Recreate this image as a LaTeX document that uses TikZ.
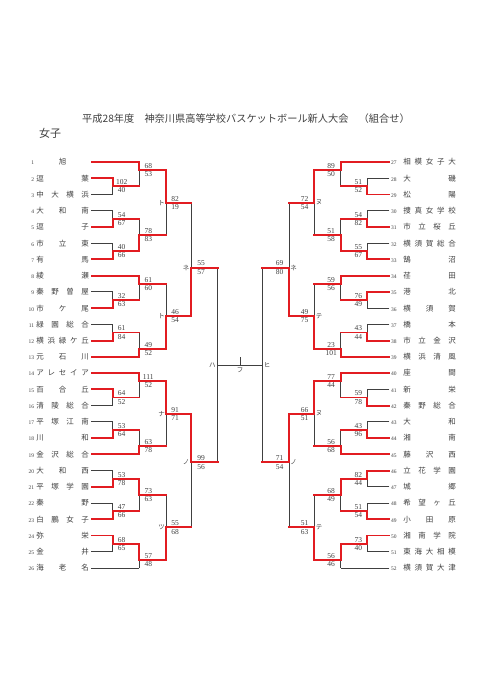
\documentclass[tikz,border=0pt]{standalone}
\usepackage{fontspec}
\setmainfont{Liberation Serif}
\newfontfamily\jp{Noto Sans CJK JP}
\pgfdeclarelayer{bgw}
\pgfdeclarelayer{dk}
\pgfsetlayers{bgw,dk,main}
\definecolor{wr}{RGB}{226,28,33}
\definecolor{dg}{RGB}{64,64,64}
\tikzset{
 rl/.style={draw=wr, line width=1.9pt, line cap=rect},
 dl/.style={draw=dg, line width=0.9pt},
 sc/.style={inner sep=0pt, font=\fontsize{7.5}{7.5}\selectfont, text=dg},
 kl/.style={inner sep=0pt, font=\jp\fontsize{6.5}{6.5}\selectfont, text=dg},
 tm/.style={inner sep=0pt, anchor=west, font=\jp\fontsize{7.5}{7.5}\selectfont, text=dg},
}
\newcommand\numf{\rmfamily\fontsize{5.5}{5.5}\selectfont}
\newcommand\dkl[1]{\begin{pgfonlayer}{dk}#1\end{pgfonlayer}}
% name, x, yA, yB, yO, winner(u/l), upper score, lower score, score dx
\newcommand\mtch[9]{%
  \coordinate (#1a) at (#2,#3);
  \coordinate (#1b) at (#2,#4);
  \coordinate (#1) at (#2,#5);
  \if#6u
    \draw[rl] (#1a) -- (#1);
    \dkl{\draw[dl] (#1) -- (#1b);}
  \else
    \draw[rl] (#1) -- (#1b);
    \dkl{\draw[dl] (#1a) -- (#1);}
  \fi
  \node[sc, anchor=base] (#1u) at (#2+#9, #5-1.6) {#7};
  \node[sc, anchor=base] (#1l) at (#2+#9, #5+6.6) {#8};
}
\newcommand\teamL[4]{\node[tm] (#1) at (26,#2) {\makebox[8pt][r]{\numf #3}\hspace{2.25pt}\hbox to 52.5pt{#4}};}
\newcommand\teamR[4]{\node[tm] (#1) at (391,#2) {\makebox[12.25pt][l]{\numf #3}\hbox to 52.5pt{#4}};}
\begin{document}
\begin{tikzpicture}[x=1pt,y=-1pt]
\begin{pgfonlayer}{bgw}\fill[white] (0,0) rectangle (481,680);\end{pgfonlayer}
\useasboundingbox (0,0) rectangle (481,680);
\node[inner sep=0pt, anchor=west, font=\jp\fontsize{10.2}{10.2}\selectfont, text=dg] (title) at (82,119) {平成28年度　神奈川県高等学校バスケットボール新人大会　（組合せ）};
\node[inner sep=0pt, font=\jp\fontsize{11}{11}\selectfont, text=dg] (sex) at (50,133.5) {女子};
% left teams
\teamL{t1}{162.00}{1}{\hfill 旭\hfill}
\teamL{t2}{178.24}{2}{逗\hfill 葉}
\teamL{t3}{194.48}{3}{中\hfill 大\hfill 横\hfill 浜}
\teamL{t4}{210.72}{4}{大\hfill 和\hfill 南}
\teamL{t5}{226.96}{5}{逗\hfill 子}
\teamL{t6}{243.20}{6}{市\hfill 立\hfill 東}
\teamL{t7}{259.44}{7}{有\hfill 馬}
\teamL{t8}{275.68}{8}{綾\hfill 瀬}
\teamL{t9}{291.92}{9}{秦\hfill 野\hfill 曽\hfill 屋}
\teamL{t10}{308.16}{10}{市\hfill ケ\hfill 尾}
\teamL{t11}{324.40}{11}{緑\hfill 園\hfill 総\hfill 合}
\teamL{t12}{340.64}{12}{横\hfill 浜\hfill 緑\hfill ケ\hfill 丘}
\teamL{t13}{356.88}{13}{元\hfill 石\hfill 川}
\teamL{t14}{373.12}{14}{ア\hfill レ\hfill セ\hfill イ\hfill ア}
\teamL{t15}{389.36}{15}{百\hfill 合\hfill 丘}
\teamL{t16}{405.60}{16}{清\hfill 陵\hfill 総\hfill 合}
\teamL{t17}{421.84}{17}{平\hfill 塚\hfill 江\hfill 南}
\teamL{t18}{438.08}{18}{川\hfill 和}
\teamL{t19}{454.32}{19}{金\hfill 沢\hfill 総\hfill 合}
\teamL{t20}{470.56}{20}{大\hfill 和\hfill 西}
\teamL{t21}{486.80}{21}{平\hfill 塚\hfill 学\hfill 園}
\teamL{t22}{503.04}{22}{秦\hfill 野}
\teamL{t23}{519.28}{23}{白\hfill 鵬\hfill 女\hfill 子}
\teamL{t24}{535.52}{24}{弥\hfill 栄}
\teamL{t25}{551.76}{25}{金\hfill 井}
\teamL{t26}{568.00}{26}{海\hfill 老\hfill 名}
% right teams
\teamR{t27}{162.00}{27}{相\hfill 模\hfill 女\hfill 子\hfill 大}
\teamR{t28}{178.24}{28}{大\hfill 磯}
\teamR{t29}{194.48}{29}{松\hfill 陽}
\teamR{t30}{210.72}{30}{捜\hfill 真\hfill 女\hfill 学\hfill 校}
\teamR{t31}{226.96}{31}{市\hfill 立\hfill 桜\hfill 丘}
\teamR{t32}{243.20}{32}{横\hfill 須\hfill 賀\hfill 総\hfill 合}
\teamR{t33}{259.44}{33}{鵠\hfill 沼}
\teamR{t34}{275.68}{34}{荏\hfill 田}
\teamR{t35}{291.92}{35}{港\hfill 北}
\teamR{t36}{308.16}{36}{横\hfill 須\hfill 賀}
\teamR{t37}{324.40}{37}{橋\hfill 本}
\teamR{t38}{340.64}{38}{市\hfill 立\hfill 金\hfill 沢}
\teamR{t39}{356.88}{39}{横\hfill 浜\hfill 清\hfill 風}
\teamR{t40}{373.12}{40}{座\hfill 間}
\teamR{t41}{389.36}{41}{新\hfill 栄}
\teamR{t42}{405.60}{42}{秦\hfill 野\hfill 総\hfill 合}
\teamR{t43}{421.84}{43}{大\hfill 和}
\teamR{t44}{438.08}{44}{湘\hfill 南}
\teamR{t45}{454.32}{45}{藤\hfill 沢\hfill 西}
\teamR{t46}{470.56}{46}{立\hfill 花\hfill 学\hfill 園}
\teamR{t47}{486.80}{47}{城\hfill 郷}
\teamR{t48}{503.04}{48}{希\hfill 望\hfill ヶ\hfill 丘}
\teamR{t49}{519.28}{49}{小\hfill 田\hfill 原}
\teamR{t50}{535.52}{50}{湘\hfill 南\hfill 学\hfill 院}
\teamR{t51}{551.76}{51}{東\hfill 海\hfill 大\hfill 相\hfill 模}
\teamR{t52}{568.00}{52}{横\hfill 須\hfill 賀\hfill 大\hfill 津}
% left round 1
\mtch{a1}{112.7}{178.24}{194.48}{186.36}{u}{102}{40}{9}
\mtch{a2}{112.7}{210.72}{226.96}{218.84}{l}{54}{67}{9}
\mtch{a3}{112.7}{243.20}{259.44}{251.32}{l}{40}{66}{9}
\mtch{a4}{112.7}{291.92}{308.16}{300.04}{l}{32}{63}{9}
\mtch{a5}{112.7}{324.40}{340.64}{332.52}{l}{61}{84}{9}
\mtch{a6}{112.7}{389.36}{405.60}{397.48}{u}{64}{52}{9}
\mtch{a7}{112.7}{421.84}{438.08}{429.96}{l}{53}{64}{9}
\mtch{a8}{112.7}{470.56}{486.80}{478.68}{l}{53}{78}{9}
\mtch{a9}{112.7}{503.04}{519.28}{511.16}{l}{47}{66}{9}
\mtch{a10}{112.7}{535.52}{551.76}{543.64}{u}{68}{65}{9}
% left round 2
\mtch{b1}{139.3}{162}{186.36}{170.12}{u}{68}{53}{9}
\mtch{b2}{139.3}{218.84}{251.32}{235.08}{l}{78}{83}{9}
\mtch{b3}{139.3}{275.68}{300.04}{283.80}{u}{61}{60}{9}
\mtch{b4}{139.3}{332.52}{356.88}{348.76}{l}{49}{52}{9}
\mtch{b5}{139.3}{373.12}{397.48}{381.24}{u}{111}{52}{9}
\mtch{b6}{139.3}{429.96}{454.32}{446.20}{l}{63}{78}{9}
\mtch{b7}{139.3}{478.68}{511.16}{494.92}{u}{73}{63}{9}
\mtch{b8}{139.3}{543.64}{568.00}{559.88}{u}{57}{48}{9}
% left round 3
\mtch{c1}{166}{170.12}{235.08}{202.60}{u}{82}{19}{9}
\mtch{c2}{166}{283.80}{348.76}{316.28}{l}{46}{54}{9}
\mtch{c3}{166}{381.24}{446.20}{413.72}{u}{91}{71}{9}
\mtch{c4}{166}{494.92}{559.88}{527.40}{l}{55}{68}{9}
% left round 4
\mtch{d1}{191}{202.60}{316.28}{267.56}{l}{55}{57}{10}
\mtch{d2}{191}{413.72}{527.40}{462.44}{u}{99}{56}{10}
% right round 1
\mtch{e1}{367.3}{178.24}{194.48}{186.36}{l}{51}{52}{-9}
\mtch{e2}{367.3}{210.72}{226.96}{218.84}{l}{54}{82}{-9}
\mtch{e3}{367.3}{243.20}{259.44}{251.32}{l}{55}{67}{-9}
\mtch{e4}{367.3}{291.92}{308.16}{300.04}{u}{76}{49}{-9}
\mtch{e5}{367.3}{324.40}{340.64}{332.52}{l}{43}{44}{-9}
\mtch{e6}{367.3}{389.36}{405.60}{397.48}{l}{59}{78}{-9}
\mtch{e7}{367.3}{421.84}{438.08}{429.96}{l}{43}{96}{-9}
\mtch{e8}{367.3}{470.56}{486.80}{478.68}{u}{82}{44}{-9}
\mtch{e9}{367.3}{503.04}{519.28}{511.16}{l}{51}{54}{-9}
\mtch{e10}{367.3}{535.52}{551.76}{543.64}{u}{73}{40}{-9}
% right round 2
\mtch{f1}{340.7}{162}{186.36}{170.12}{u}{89}{50}{-9.5}
\mtch{f2}{340.7}{218.84}{251.32}{235.08}{l}{51}{58}{-9.5}
\mtch{f3}{340.7}{275.68}{300.04}{283.80}{u}{59}{56}{-9.5}
\mtch{f4}{340.7}{332.52}{356.88}{348.76}{l}{23}{101}{-9.5}
\mtch{f5}{340.7}{373.12}{397.48}{381.24}{u}{77}{44}{-9.5}
\mtch{f6}{340.7}{429.96}{454.32}{446.20}{l}{56}{68}{-9.5}
\mtch{f7}{340.7}{478.68}{511.16}{494.92}{u}{68}{49}{-9.5}
\mtch{f8}{340.7}{543.64}{568.00}{559.88}{u}{56}{46}{-9.5}
% right round 3
\mtch{g1}{314}{170.12}{235.08}{202.60}{u}{72}{54}{-9.5}
\mtch{g2}{314}{283.80}{348.76}{316.28}{l}{49}{75}{-9.5}
\mtch{g3}{314}{381.24}{446.20}{413.72}{u}{66}{51}{-9.5}
\mtch{g4}{314}{494.92}{559.88}{527.40}{l}{51}{63}{-9.5}
% right round 4
\mtch{h1}{289}{202.60}{316.28}{267.56}{l}{69}{80}{-9.5}
\mtch{h2}{289}{413.72}{527.40}{462.44}{u}{71}{54}{-9.5}
% semis and final
\coordinate (sLa) at (217.7,267.56);
\coordinate (sLb) at (217.7,462.44);
\coordinate (sL) at (217.7,365);
\coordinate (sRa) at (262.3,267.56);
\coordinate (sRb) at (262.3,462.44);
\coordinate (sR) at (262.3,365);
\coordinate (fin) at (240,365);
\coordinate (finT) at (240,356.7);
\dkl{\draw[dl] (sLa) -- (sLb);
\draw[dl] (sRa) -- (sRb);
\draw[dl] (sL) -- (sR);
\draw[dl] (fin) -- (finT);}
% output connectors
\foreach \p/\q in {a1/b1b,a2/b2a,a3/b2b,a4/b3b,a5/b4a,a6/b5b,a7/b6a,a8/b7a,a9/b7b,a10/b8a,
  b1/c1a,b2/c1b,b3/c2a,b4/c2b,b5/c3a,b6/c3b,b7/c4a,b8/c4b,c1/d1a,c2/d1b,c3/d2a,c4/d2b,d1/sLa,d2/sLb,
  e1/f1b,e2/f2a,e3/f2b,e4/f3b,e5/f4a,e6/f5b,e7/f6a,e8/f7a,e9/f7b,e10/f8a,
  f1/g1a,f2/g1b,f3/g2a,f4/g2b,f5/g3a,f6/g3b,f7/g4a,f8/g4b,g1/h1a,g2/h1b,g3/h2a,g4/h2b,h1/sRa,h2/sRb}
  {\draw[rl] (\p) -- (\q);}
% team lines left
\foreach \t/\q in {t1/b1a,t2/a1a,t5/a2b,t7/a3b,t8/b3a,t10/a4b,t12/a5b,t13/b4b,t14/b5a,t15/a6a,t18/a7b,t19/b6b,t21/a8b,t23/a9b,t24/a10a}
  {\draw[rl] ([xshift=2.3pt]\t.east) -- (\q);}
\dkl{\foreach \t/\q in {t3/a1b,t4/a2a,t6/a3a,t9/a4a,t11/a5a,t16/a6b,t17/a7a,t20/a8a,t22/a9a,t25/a10b,t26/b8b}
  {\draw[dl] ([xshift=2.3pt]\t.east) -- (\q);}}
% team lines right
\foreach \t/\q in {t27/f1a,t29/e1b,t31/e2b,t33/e3b,t34/f3a,t35/e4a,t38/e5b,t39/f4b,t40/f5a,t42/e6b,t44/e7b,t45/f6b,t46/e8a,t49/e9b,t50/e10a}
  {\draw[rl] ([xshift=-1.7pt]\t.west) -- (\q);}
\dkl{\foreach \t/\q in {t28/e1a,t30/e2a,t32/e3a,t36/e4b,t37/e5a,t41/e6a,t43/e7a,t47/e8b,t48/e9a,t51/e10b,t52/f8b}
  {\draw[dl] ([xshift=-1.7pt]\t.west) -- (\q);}}
% round labels
\node[kl] (k1) at (161.5,202.6) {ト};
\node[kl] (k2) at (161.5,316.28) {ト};
\node[kl] (k3) at (161.5,413.72) {ナ};
\node[kl] (k4) at (161.5,527.4) {ツ};
\node[kl] (k5) at (186,267.56) {ネ};
\node[kl] (k6) at (186,462.44) {ノ};
\node[kl] (k7) at (212.3,365) {ハ};
\node[kl] (k8) at (319,202.6) {ヌ};
\node[kl] (k9) at (319,316.28) {テ};
\node[kl] (k10) at (319,413.72) {ヌ};
\node[kl] (k11) at (319,527.4) {テ};
\node[kl] (k12) at (293.5,267.56) {ネ};
\node[kl] (k13) at (293.5,462.44) {ノ};
\node[kl] (k14) at (267,365) {ヒ};
\node[kl] (k15) at (240,370.5) {フ};
\end{tikzpicture}
\end{document}
